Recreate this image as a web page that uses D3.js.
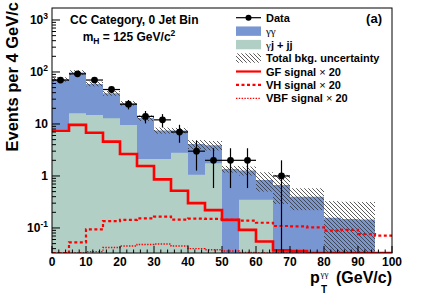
<!DOCTYPE html>
<html>
<head>
<meta charset="utf-8">
<script src="https://cdn.jsdelivr.net/npm/d3@7"></script>
<style>
  body { margin: 0; background: #fff; }
  svg { display: block; font-family: "Liberation Sans", Arial, Helvetica, sans-serif; font-weight: bold; }
</style>
</head>
<body>
<div id="vis"></div>
<script>
// pT bins (GeV/c), lower edges, 5 GeV wide
const binLow = [0, 5, 10, 15, 20, 25, 30, 35, 40, 45, 50, 55, 60, 65, 70, 75, 80, 85, 90, 95];
const binWidth = 5;

// background components (stacked: gamma-jet/jet-jet on the bottom, diphoton on top)
const gjYield = [8, 16, 14.9, 12.9, 9.6, 2.12, 2.12, 2.8, 1.05, 1.75, 0, 0.35, 0.35, 0, 0, 0, 0, 0, 0, 0];
const ggYield = [64, 82, 44.1, 26.1, 15.4, 10.9, 5.4, 4.7, 3.05, 2.15, 1.36, 0.92, 0.49, 0.67, 0.40, 0.40, 0.158, 0.149, 0.145, 0];
const bkgErr  = [7, 10, 6, 4, 2.5, 1.6, 1.0, 0.9, 0.8, 0.8, 0.2, 0.25, 0.34, 0.38, 0.18, 0.18, 0.17, 0.17, 0.17, 0];

// observed events
const dataCounts = [70, 92, 70, 46, 24, 14, 12, 7, 3, 2, 2, 2, 0, 1, 0, 0, 0, 0, 0, 0];

// signals x 20
const gfSignal  = [7.4, 9.6, 6.8, 4.57, 2.65, 1.56, 0.86, 0.52, 0.30, 0.22, 0.143, 0.092, 0.055, 0.037, 0.036, 0.02, 0.02, 0.02, 0.02, 0.02];
const vhSignal  = [0.03, 0.053, 0.094, 0.135, 0.143, 0.153, 0.165, 0.145, 0.151, 0.149, 0.143, 0.138, 0.126, 0.109, 0.107, 0.103, 0.089, 0.092, 0.076, 0.071];
const vbfSignal = [0.02, 0.031, 0.035, 0.042, 0.045, 0.048, 0.049, 0.045, 0.040, 0.038, 0.036, 0.034, 0.033, 0.032, 0.031, 0.03, 0.03, 0.03, 0.03, 0.03];

// axes
const xTickValues = [0, 10, 20, 30, 40, 50, 60, 70, 80, 90, 100];
const yTickValues = [0.1, 1, 10, 100, 1000];
const yTickBase   = ['10', '1', '10', '10', '10'];
const yTickExp    = ['-1', '', '', '2', '3'];

const legendLabels = ['Data', 'γγ', 'γj + jj', 'Total bkg. uncertainty', 'GF signal', 'VH signal', 'VBF signal'];

// canvas
const width = 436;
const height = 295;
const frame = {left: 52, right: 392, top: 8, bottom: 253};

const blue = '#7896d2';
const green = '#b1cfc5';
const red = '#ff0000';

const svg = d3.select('#vis').append('svg')
    .attr('width', width)
    .attr('height', height)
    .attr('viewBox', [0, 0, width, height]);

const defs = svg.append('defs');
const hatch = defs.append('pattern')
    .attr('id', 'hatch')
    .attr('patternUnits', 'userSpaceOnUse')
    .attr('width', 4)
    .attr('height', 4);
hatch.append('path')
    .attr('d', 'M0,0 L4,4 M-1,3 L1,5 M3,-1 L5,1')
    .attr('stroke', '#333')
    .attr('stroke-width', 0.8);

defs.append('clipPath').attr('id', 'clip')
  .append('rect')
    .attr('x', frame.left).attr('y', frame.top)
    .attr('width', frame.right - frame.left)
    .attr('height', frame.bottom - frame.top);

const yMin = 0.033, yMax = 1700;

const x = d3.scaleLinear().domain([0, 100]).range([frame.left, frame.right]);
const y = d3.scaleLog().domain([yMin, yMax]).range([frame.bottom, frame.top]);
const yc = v => y(Math.min(Math.max(v, yMin), yMax));

// bins with the running totals
const bins = binLow.map((lo, i) => ({
    lo: lo,
    hi: lo + binWidth,
    gj: gjYield[i],
    total: gjYield[i] + ggYield[i],
    err: bkgErr[i],
    data: dataCounts[i],
    gf: gfSignal[i],
    vh: vhSignal[i],
    vbf: vbfSignal[i]
}));

// step helper: add terminal point at the last upper edge
function stepPoints(key) {
    const pts = bins.map(b => ({x: b.lo, v: b[key]}));
    pts.push({x: bins[bins.length - 1].hi, v: bins[bins.length - 1][key]});
    return pts;
}

const area = d3.area()
    .curve(d3.curveStepAfter)
    .x(d => x(d.x))
    .y0(frame.bottom)
    .y1(d => yc(d.v));

const line = d3.line()
    .curve(d3.curveStepAfter)
    .x(d => x(d.x))
    .y(d => yc(d.v));

const plot = svg.append('g').attr('clip-path', 'url(#clip)');

// stacked background
plot.append('path').attr('d', area(stepPoints('total'))).attr('fill', blue);
plot.append('path').attr('d', area(stepPoints('gj'))).attr('fill', green);

// uncertainty band
plot.append('g').selectAll('rect')
    .data(bins.filter(b => b.total > 0))
    .join('rect')
    .attr('x', d => x(d.lo))
    .attr('width', d => x(d.hi) - x(d.lo))
    .attr('y', d => yc(d.total + d.err))
    .attr('height', d => yc(d.total - d.err) - yc(d.total + d.err))
    .attr('fill', 'url(#hatch)');

// signals
plot.append('path').attr('d', line(stepPoints('gf')))
    .attr('fill', 'none').attr('stroke', red).attr('stroke-width', 2.6);
plot.append('path').attr('d', line(stepPoints('vh')))
    .attr('fill', 'none').attr('stroke', red).attr('stroke-width', 2.2)
    .attr('stroke-dasharray', '3,2.5');
plot.append('path').attr('d', line(stepPoints('vbf')))
    .attr('fill', 'none').attr('stroke', red).attr('stroke-width', 1.4)
    .attr('stroke-dasharray', '1.4,1.4');

// data points with sqrt(N) errors
const pts = bins.filter(b => b.data > 0);
const dataG = plot.append('g');
dataG.selectAll('line.h')
    .data(pts)
    .join('line')
    .attr('class', 'h')
    .attr('x1', d => x(d.lo)).attr('x2', d => x(d.hi))
    .attr('y1', d => y(d.data)).attr('y2', d => y(d.data))
    .attr('stroke', '#000').attr('stroke-width', 1.2);
dataG.selectAll('line.v')
    .data(pts)
    .join('line')
    .attr('class', 'v')
    .attr('x1', d => x(d.lo + binWidth / 2)).attr('x2', d => x(d.lo + binWidth / 2))
    .attr('y1', d => yc(d.data + Math.sqrt(d.data)))
    .attr('y2', d => yc(d.data - Math.sqrt(d.data)))
    .attr('stroke', '#000').attr('stroke-width', 1.2);
dataG.selectAll('circle')
    .data(pts)
    .join('circle')
    .attr('cx', d => x(d.lo + binWidth / 2))
    .attr('cy', d => y(d.data))
    .attr('r', 3.4)
    .attr('fill', '#000');

// frame
svg.append('rect')
    .attr('x', frame.left).attr('y', frame.top)
    .attr('width', frame.right - frame.left)
    .attr('height', frame.bottom - frame.top)
    .attr('fill', 'none').attr('stroke', '#000').attr('stroke-width', 1);

// x axis ticks (inside)
const xMinor = d3.range(0, 101, 2).filter(v => v % 10 !== 0);
svg.append('g').selectAll('line')
    .data(xTickValues.map(v => ({v: v, len: 7})).concat(xMinor.map(v => ({v: v, len: 3.5}))))
    .join('line')
    .attr('x1', d => x(d.v)).attr('x2', d => x(d.v))
    .attr('y1', frame.bottom).attr('y2', d => frame.bottom - d.len)
    .attr('stroke', '#000').attr('stroke-width', 1);
svg.append('g').selectAll('text')
    .data(xTickValues)
    .join('text')
    .attr('x', d => x(d))
    .attr('y', 265.5)
    .attr('text-anchor', 'middle')
    .attr('font-size', 12)
    .text(d => d);

// y axis ticks (inside, log)
const yMinor = [];
[0.01, 0.1, 1, 10, 100, 1000].forEach(dec => {
    for (let k = 2; k <= 9; k++) {
        const v = dec * k;
        if (v >= yMin && v <= yMax) yMinor.push(v);
    }
});
svg.append('g').selectAll('line')
    .data(yTickValues.map(v => ({v: v, len: 8})).concat(yMinor.map(v => ({v: v, len: 4}))))
    .join('line')
    .attr('x1', frame.left).attr('x2', d => frame.left + d.len)
    .attr('y1', d => y(d.v)).attr('y2', d => y(d.v))
    .attr('stroke', '#000').attr('stroke-width', 1);

const yLab = svg.append('g').selectAll('text')
    .data(yTickValues)
    .join('text')
    .attr('x', 48)
    .attr('y', d => y(d) + 4.5)
    .attr('text-anchor', 'end')
    .attr('font-size', 12);
yLab.append('tspan').text((d, i) => yTickBase[i]);
yLab.append('tspan')
    .attr('dy', -5)
    .attr('font-size', 8.5)
    .text((d, i) => yTickExp[i]);

// axis titles
svg.append('text')
    .attr('transform', 'translate(18,2) rotate(-90)')
    .attr('text-anchor', 'end')
    .attr('font-size', 16.5)
    .text('Events per 4 GeV/c');

const xt = svg.append('g').attr('font-size', 16);
xt.append('text').attr('x', 310).attr('y', 283).text('p');
xt.append('text').attr('x', 321).attr('y', 293).attr('font-size', 10).text('T');
xt.append('text').attr('x', 320.5).attr('y', 277).attr('font-size', 9)
    .attr('font-family', '"Liberation Serif", serif').attr('font-weight', 'normal').text('γγ');
xt.append('text').attr('x', 392).attr('y', 283).attr('text-anchor', 'end').text('(GeV/c)');

// labels in the frame
svg.append('text').attr('x', 70).attr('y', 23.5).attr('font-size', 12).text('CC Category, 0 Jet Bin');
const mh = svg.append('text').attr('x', 82.7).attr('y', 41).attr('font-size', 12);
mh.append('tspan').text('m');
mh.append('tspan').attr('dy', 3).attr('font-size', 8.5).text('H');
mh.append('tspan').attr('dy', -3).text(' = 125 GeV/c');
mh.append('tspan').attr('dy', -5).attr('font-size', 8.5).text('2');

svg.append('text').attr('x', 382).attr('y', 22.5).attr('text-anchor', 'end').attr('font-size', 13).text('(a)');

// legend
const lg = svg.append('g');
const legY = i => 17.7 + i * 13.45;
const sx0 = 236, sx1 = 261, tx = 266;

// Data
lg.append('line').attr('x1', sx0).attr('x2', sx1).attr('y1', legY(0)).attr('y2', legY(0))
    .attr('stroke', '#000').attr('stroke-width', 1.2);
lg.append('circle').attr('cx', (sx0 + sx1) / 2).attr('cy', legY(0)).attr('r', 3).attr('fill', '#000');
// boxes
lg.append('rect').attr('x', sx0).attr('y', legY(1) - 4.7).attr('width', sx1 - sx0).attr('height', 9.4).attr('fill', blue);
lg.append('rect').attr('x', sx0).attr('y', legY(2) - 4.7).attr('width', sx1 - sx0).attr('height', 9.4).attr('fill', green);
lg.append('rect').attr('x', sx0).attr('y', legY(3) - 4.7).attr('width', sx1 - sx0).attr('height', 9.4).attr('fill', 'url(#hatch)');
// lines
lg.append('line').attr('x1', sx0).attr('x2', sx1).attr('y1', legY(4)).attr('y2', legY(4))
    .attr('stroke', red).attr('stroke-width', 2.2);
lg.append('line').attr('x1', sx0).attr('x2', sx1).attr('y1', legY(5)).attr('y2', legY(5))
    .attr('stroke', red).attr('stroke-width', 2.2).attr('stroke-dasharray', '3,2.5');
lg.append('line').attr('x1', sx0).attr('x2', sx1).attr('y1', legY(6)).attr('y2', legY(6))
    .attr('stroke', red).attr('stroke-width', 1.4).attr('stroke-dasharray', '1.4,1.4');

const lt = lg.selectAll('text.lab')
    .data(legendLabels)
    .join('text')
    .attr('class', 'lab')
    .attr('x', tx)
    .attr('y', (d, i) => legY(i) + 4)
    .attr('font-size', 11);
lt.each(function (d, i) {
    const t = d3.select(this);
    if (i === 1) {
        t.append('tspan').attr('font-family', '"Liberation Serif", serif').attr('font-weight', 'normal').text('γγ');
    } else if (i === 2) {
        t.append('tspan').attr('font-family', '"Liberation Serif", serif').attr('font-weight', 'normal').text('γ');
        t.append('tspan').text('j + jj');
    } else if (i >= 4) {
        t.append('tspan').text(d + ' ');
        t.append('tspan').attr('font-weight', 'normal').text('×');
        t.append('tspan').text(' 20');
    } else {
        t.text(d);
    }
});
</script>
</body>
</html>
